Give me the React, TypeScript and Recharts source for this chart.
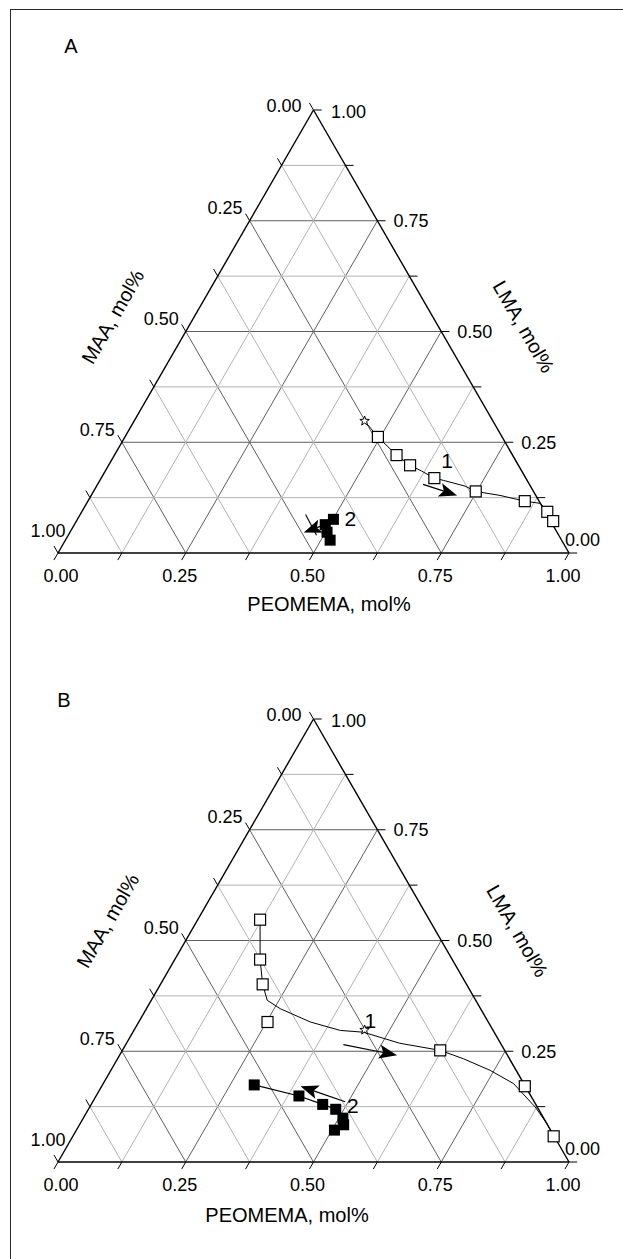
import React from 'react';
import { ScatterChart, Scatter, XAxis, YAxis, ReferenceLine } from 'recharts';

// compositions are [PEOMEMA, LMA] mole fractions, MAA = 1 - PEOMEMA - LMA
type Pt = [number, number];

const MAJOR_TICKS = [0, 0.25, 0.5, 0.75, 1];
const TICK_LABELS = ['0.00', '0.25', '0.50', '0.75', '1.00'];
const MINOR_TICKS = [0.125, 0.375, 0.625, 0.875];

// feed composition (star)
const FEED: Pt = [0.451, 0.298];

// panel A
const A_OPEN: Pt[] = [
  [0.495, 0.262], [0.552, 0.221], [0.59, 0.198], [0.652, 0.169],
  [0.748, 0.139], [0.855, 0.117], [0.911, 0.093], [0.933, 0.072],
];
const A_CURVE: Pt[] = [
  [0.451, 0.298], [0.495, 0.262], [0.552, 0.221], [0.59, 0.198], [0.619, 0.185],
  [0.652, 0.169], [0.672, 0.164], [0.721, 0.151], [0.748, 0.139], [0.8, 0.13],
  [0.855, 0.117], [0.888, 0.112], [0.911, 0.093], [0.933, 0.072],
];
const A_FILLED: Pt[] = [[0.501, 0.076], [0.491, 0.064], [0.503, 0.047], [0.518, 0.029]];
const A_ARROWS: [Pt, Pt][] = [
  [[0.637, 0.155], [0.716, 0.13]],
  [[0.49, 0.064], [0.458, 0.046]],
];
const A_STROKES: [Pt, Pt][] = [[[0.441, 0.087], [0.486, 0.04]]];
const A_NUMBERS = [
  { at: [0.657, 0.209] as Pt, text: '1' },
  { at: [0.533, 0.078] as Pt, text: '2' },
];

// panel B
const B_OPEN: Pt[] = [
  [0.122, 0.547], [0.167, 0.457], [0.2, 0.401], [0.252, 0.316],
  [0.622, 0.252], [0.828, 0.171], [0.941, 0.058],
];
const B_CURVE: Pt[] = [
  [0.122, 0.547], [0.167, 0.457], [0.2, 0.401], [0.227, 0.365], [0.262, 0.346],
  [0.336, 0.316], [0.404, 0.297], [0.451, 0.293], [0.535, 0.268], [0.622, 0.252],
  [0.677, 0.233], [0.742, 0.207], [0.803, 0.177], [0.872, 0.124], [0.913, 0.087],
  [0.941, 0.058],
];
const B_FILLED: Pt[] = [
  [0.297, 0.174], [0.397, 0.149], [0.453, 0.13], [0.484, 0.119],
  [0.508, 0.099], [0.517, 0.084], [0.505, 0.072],
];
const B_ARROWS: [Pt, Pt][] = [
  [[0.426, 0.265], [0.543, 0.241]],
  [[0.494, 0.136], [0.389, 0.171]],
];
const B_NUMBERS = [
  { at: [0.451, 0.32] as Pt, text: '1' },
  { at: [0.513, 0.128] as Pt, text: '2' },
];

const FONT = '"Liberation Sans", Arial, Helvetica, sans-serif';
const TICK_LEN = 0.016;
const TICK_FONT = 18;
const TITLE_FONT = 20;

const toXY = ([p, l]: Pt) => ({ x: p + l / 2, y: l });

const Empty = () => <g />;

const OpenSquare = (props: any) => (
  <rect x={props.cx - 5.5} y={props.cy - 5.5} width={11} height={11} fill="#fff" stroke="#000" strokeWidth={1.2} />
);

const FilledSquare = (props: any) => (
  <rect x={props.cx - 5.5} y={props.cy - 5.5} width={11} height={11} fill="#000" />
);

const StarShape = (props: any) => {
  const pts: string[] = [];
  for (let i = 0; i < 10; i++) {
    const r = i % 2 ? 2.1 : 5;
    const a = -Math.PI / 2 + (i * Math.PI) / 5;
    pts.push(`${props.cx + r * Math.cos(a)},${props.cy + r * Math.sin(a)}`);
  }
  return <polygon points={pts.join(' ')} fill="#fff" stroke="#000" strokeWidth={1} />;
};

const arrowShape = (props: any) => {
  const { x1, y1, x2, y2 } = props;
  const a = Math.atan2(y2 - y1, x2 - x1);
  const c = Math.cos(a);
  const s = Math.sin(a);
  const len = 18;
  const half = 7;
  const notch = 4;
  const bx = x2 - len * c;
  const by = y2 - len * s;
  const nx = x2 - (len - notch) * c;
  const ny = y2 - (len - notch) * s;
  const pts = `${x2},${y2} ${bx - s * half},${by + c * half} ${nx},${ny} ${bx + s * half},${by - c * half}`;
  return (
    <g>
      <line x1={x1} y1={y1} x2={nx} y2={ny} stroke="#000" strokeWidth={1.2} />
      <polygon points={pts} fill="#000" />
    </g>
  );
};

const tickText = (x: number, y: number, text: string, anchor: string) => (
  <text x={x} y={y} textAnchor={anchor} fontSize={TICK_FONT} fontFamily={FONT} fill="#000">
    {text}
  </text>
);

// label offsets are measured from the axis point (text centre + ~6.5px to baseline)
const LeftTick = (props: any) => {
  const { cx, cy, payload } = props;
  let dx = -7;
  let dy = -13;
  if (payload.v === 0) { dx = -12; dy = -5; }
  if (payload.v === 1) { dx = 7.5; dy = -23; }
  return tickText(cx + dx, cy + dy + 6.5, payload.text, 'end');
};

const RightTick = (props: any) => {
  const { cx, cy, payload } = props;
  let dx = 16;
  let dy = 0;
  if (payload.v === 0) { dx = -4; dy = -13.5; }
  if (payload.v === 1) { dx = 17.5; dy = 1; }
  return tickText(cx + dx, cy + dy + 6.5, payload.text, 'start');
};

const BottomTick = (props: any) => {
  const { cx, cy, payload } = props;
  const dx = payload.v === 0 ? 3 : -6;
  return tickText(cx + dx, cy + 22 + 6.5, payload.text, 'middle');
};

const NumberLabel = (props: any) => (
  <text x={props.cx} y={props.cy + 7.5} textAnchor="middle" fontSize={21} fontFamily={FONT} fill="#000">
    {props.payload.text}
  </text>
);

interface Layout {
  letter: [number, number];
  bottomTitle: [number, number];
  leftTitle: [number, number];
  rightTitle: [number, number];
}

const makeTitles = (letter: string, lay: Layout) => (props: any) => {
  const { cx, cy } = props;
  const t = (x: number, y: number, text: string, size: number, rot = 0) => (
    <text
      x={cx + x}
      y={cy + y + size * 0.36}
      textAnchor="middle"
      fontSize={size}
      fontFamily={FONT}
      fill="#000"
      transform={rot ? `rotate(${rot} ${cx + x} ${cy + y})` : undefined}
    >
      {text}
    </text>
  );
  return (
    <g>
      {t(lay.letter[0], lay.letter[1], letter, 20)}
      {t(lay.bottomTitle[0], lay.bottomTitle[1], 'PEOMEMA, mol%', TITLE_FONT)}
      {t(lay.leftTitle[0], lay.leftTitle[1], 'MAA, mol%', TITLE_FONT, -60)}
      {t(lay.rightTitle[0], lay.rightTitle[1], 'LMA, mol%', TITLE_FONT, 60)}
    </g>
  );
};

interface PanelProps {
  height: number;
  letter: string;
  layout: Layout;
  open: Pt[];
  curve: Pt[];
  filled: Pt[];
  filledLine: boolean;
  arrows: [Pt, Pt][];
  strokes: [Pt, Pt][];
  numbers: { at: Pt; text: string }[];
}

function TernaryPanel({ height, letter, layout, open, curve, filled, filledLine, arrows, strokes, numbers }: PanelProps) {
  const gridSteps = [...MAJOR_TICKS.slice(1, 4), ...MINOR_TICKS];
  const tickSteps = [...MAJOR_TICKS, ...MINOR_TICKS];

  const seg = (a: Pt, b: Pt) => [toXY(a), toXY(b)] as any;

  const gridLines = gridSteps.flatMap((v) => {
    const color = MAJOR_TICKS.includes(v) ? '#5f5f5f' : '#b3b3b3';
    return [
      { key: `l${v}`, s: seg([0, v], [1 - v, v]), color },
      { key: `p${v}`, s: seg([v, 0], [v, 1 - v]), color },
      { key: `m${v}`, s: seg([1 - v, 0], [0, 1 - v]), color },
    ];
  });

  const ticks = tickSteps.flatMap((v) => [
    { key: `tr${v}`, s: seg([1 - v, v], [1 - v + TICK_LEN, v]) },
    { key: `tb${v}`, s: seg([v, 0], [v, -TICK_LEN]) },
    { key: `tl${v}`, s: seg([0, 1 - v], [-TICK_LEN, 1 - v + TICK_LEN]) },
  ]);

  const edges = [seg([0, 0], [1, 0]), seg([1, 0], [0, 1]), seg([0, 1], [0, 0])];

  const leftTicks = MAJOR_TICKS.map((v, i) => ({ ...toXY([0, 1 - v]), v, text: TICK_LABELS[i] }));
  const rightTicks = MAJOR_TICKS.map((v, i) => ({ ...toXY([1 - v, v]), v, text: TICK_LABELS[i] }));
  const bottomTicks = MAJOR_TICKS.map((v, i) => ({ ...toXY([v, 0]), v, text: TICK_LABELS[i] }));

  return (
    <ScatterChart width={623} height={height} margin={{ top: 110, left: 58, right: 54, bottom: height - 553 }}>
      <XAxis type="number" dataKey="x" domain={[0, 1]} hide />
      <YAxis type="number" dataKey="y" domain={[0, 1]} hide />

      {gridLines.map((g) => (
        <ReferenceLine key={g.key} segment={g.s} stroke={g.color} strokeWidth={1} ifOverflow="visible" />
      ))}
      {ticks.map((t) => (
        <ReferenceLine key={t.key} segment={t.s} stroke="#000" strokeWidth={1} ifOverflow="visible" />
      ))}
      {edges.map((e, i) => (
        <ReferenceLine key={`e${i}`} segment={e} stroke="#000" strokeWidth={1.4} ifOverflow="visible" />
      ))}
      {strokes.map((s, i) => (
        <ReferenceLine key={`s${i}`} segment={seg(s[0], s[1])} stroke="#000" strokeWidth={1.1} ifOverflow="visible" />
      ))}
      {arrows.map((a, i) => (
        <ReferenceLine key={`a${i}`} segment={seg(a[0], a[1])} shape={arrowShape} ifOverflow="visible" />
      ))}

      <Scatter data={curve.map(toXY)} shape={Empty} line={{ stroke: '#000', strokeWidth: 1 }} isAnimationActive={false} />
      <Scatter data={[toXY(FEED)]} shape={StarShape} isAnimationActive={false} />
      <Scatter data={open.map(toXY)} shape={OpenSquare} isAnimationActive={false} />
      <Scatter
        data={filled.map(toXY)}
        shape={FilledSquare}
        line={filledLine ? { stroke: '#000', strokeWidth: 1.2 } : false}
        isAnimationActive={false}
      />

      <Scatter data={numbers.map((n) => ({ ...toXY(n.at), text: n.text }))} shape={NumberLabel} isAnimationActive={false} />
      <Scatter data={leftTicks} shape={LeftTick} isAnimationActive={false} />
      <Scatter data={rightTicks} shape={RightTick} isAnimationActive={false} />
      <Scatter data={bottomTicks} shape={BottomTick} isAnimationActive={false} />
      <Scatter data={[toXY([0, 0])]} shape={makeTitles(letter, layout)} isAnimationActive={false} />
    </ScatterChart>
  );
}

const LAYOUT_A: Layout = {
  letter: [13, -507],
  bottomTitle: [271, 50.5],
  leftTitle: [54.6, -236.4],
  rightTitle: [465.8, -226.5],
};

const LAYOUT_B: Layout = {
  letter: [6, -462.5],
  bottomTitle: [229, 53],
  leftTitle: [49.6, -241.4],
  rightTitle: [459.6, -231.2],
};

export default function App() {
  return (
    <div style={{ position: 'absolute', left: 0, top: 0, width: 623, height: 1259, overflow: 'hidden', background: '#fff' }}>
      <div
        style={{
          position: 'absolute',
          left: 10,
          top: 9,
          width: 700,
          height: 1300,
          borderTop: '1.5px solid #2a2a2a',
          borderLeft: '1.5px solid #2a2a2a',
        }}
      />
      <div style={{ position: 'absolute', left: 0, top: 0 }}>
        <TernaryPanel
          height={630}
          letter="A"
          layout={LAYOUT_A}
          open={A_OPEN}
          curve={A_CURVE}
          filled={A_FILLED}
          filledLine={false}
          arrows={A_ARROWS}
          strokes={A_STROKES}
          numbers={A_NUMBERS}
        />
      </div>
      <div style={{ position: 'absolute', left: 0, top: 609 }}>
        <TernaryPanel
          height={650}
          letter="B"
          layout={LAYOUT_B}
          open={B_OPEN}
          curve={B_CURVE}
          filled={B_FILLED}
          filledLine={true}
          arrows={B_ARROWS}
          strokes={[]}
          numbers={B_NUMBERS}
        />
      </div>
    </div>
  );
}
